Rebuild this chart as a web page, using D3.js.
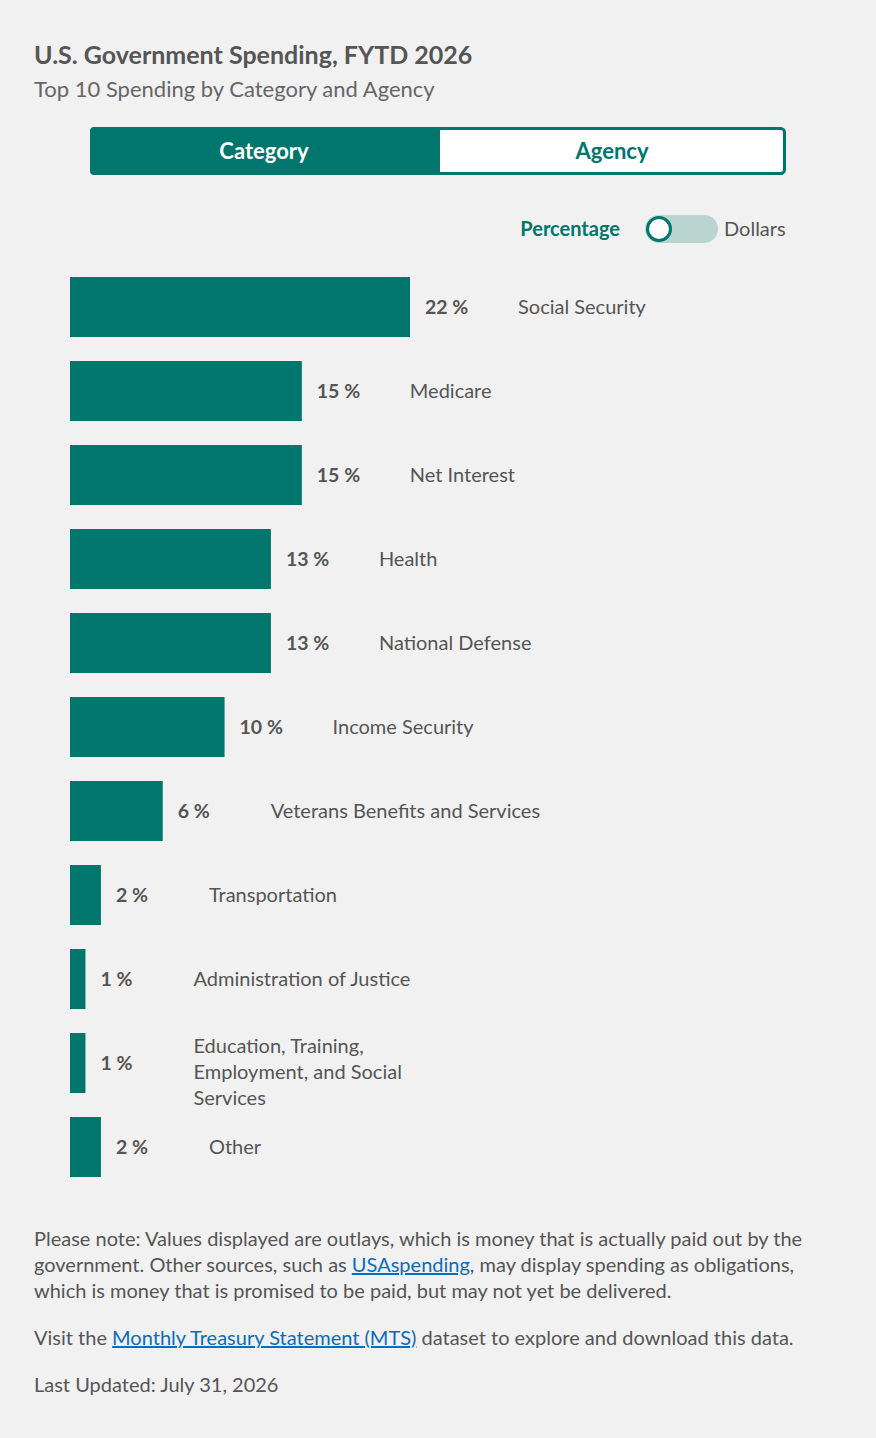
<!DOCTYPE html>
<html>
<head>
<meta charset="utf-8">
<script src="https://cdn.jsdelivr.net/npm/d3@7"></script>
<style>
  body { margin: 0; background: #f1f1f1; }
  svg { display: block; font-family: Lato, "Noto Sans", sans-serif; }
</style>
</head>
<body>
<svg width="876" height="1438"></svg>
<script>
var categories = ["Social Security", "Medicare", "Net Interest", "Health", "National Defense",
    "Income Security", "Veterans Benefits and Services", "Transportation",
    "Administration of Justice", "Education, Training, Employment, and Social Services", "Other"];
var percents = [22, 15, 15, 13, 13, 10, 6, 2, 1, 1, 2];

var title = "U.S. Government Spending, FYTD 2026",
    subtitle = "Top 10 Spending by Category and Agency",
    tabs = ["Category", "Agency"],
    switchLabels = ["Percentage", "Dollars"];

var teal = "#00766c", grey = "#555";

var svg = d3.select("svg");

var data = categories.map(function(c, i) { return {name: c, value: percents[i]}; });

// Header
svg.append("text").attr("x", 34).attr("y", 64)
    .attr("font-size", 25).attr("font-weight", 700).attr("fill", grey)
    .text(title);
svg.append("text").attr("x", 34).attr("y", 97)
    .attr("font-size", 22).attr("fill", "#666")
    .text(subtitle);

// Category / Agency tabs
var tab = d3.scaleBand().domain(tabs).range([90, 786]);
svg.append("rect").attr("x", 91.5).attr("y", 128.5).attr("width", 693).attr("height", 45)
    .attr("rx", 4).attr("fill", "#fff").attr("stroke", teal).attr("stroke-width", 3);
svg.append("path")
    .attr("d", "M" + (tab("Category") + 4) + ",127 H" + (tab("Agency") + 2) + " V175 H" + (tab("Category") + 4) +
        " a4,4 0 0 1 -4,-4 V131 a4,4 0 0 1 4,-4 Z")
    .attr("fill", teal);
svg.selectAll(".tab").data(tabs).enter().append("text")
    .attr("x", function(d) { return tab(d) + tab.bandwidth() / 2; })
    .attr("y", 151).attr("dy", "0.35em")
    .attr("text-anchor", "middle").attr("font-size", 22).attr("font-weight", 700)
    .attr("fill", function(d, i) { return i === 0 ? "#fff" : teal; })
    .text(function(d) { return d; });

// Percentage / Dollars switch
svg.append("text").attr("x", 620).attr("y", 229).attr("dy", "0.35em")
    .attr("text-anchor", "end").attr("font-size", 20).attr("font-weight", 700).attr("fill", teal)
    .text(switchLabels[0]);
svg.append("rect").attr("x", 645).attr("y", 215).attr("width", 73).attr("height", 28)
    .attr("rx", 14).attr("fill", "#bad4d0");
svg.append("circle").attr("cx", 659).attr("cy", 229).attr("r", 11.5)
    .attr("fill", "#fff").attr("stroke", teal).attr("stroke-width", 3);
svg.append("text").attr("x", 724).attr("y", 229).attr("dy", "0.35em")
    .attr("font-size", 20).attr("fill", grey)
    .text(switchLabels[1]);

// Bars
var x = d3.scaleLinear().domain([0, d3.max(percents)]).range([70, 410]);
var y = d3.scaleBand().domain(categories).range([277, 1177]).paddingInner(24 / 84).paddingOuter(0);

var row = svg.selectAll(".row").data(data).enter().append("g").attr("class", "row");

row.append("rect")
    .attr("x", x(0))
    .attr("y", function(d) { return y(d.name); })
    .attr("width", function(d) { return x(d.value) - x(0); })
    .attr("height", y.bandwidth())
    .attr("fill", teal);

row.append("text")
    .attr("x", function(d) { return x(d.value) + 15; })
    .attr("y", function(d) { return y(d.name) + y.bandwidth() / 2; })
    .attr("dy", "0.35em")
    .attr("font-size", 19.5).attr("font-weight", 700).attr("fill", grey)
    .text(function(d) { return d.value + " %"; });

var labels = row.append("text")
    .attr("x", function(d) { return x(d.value) + 108; })
    .attr("y", function(d) { return y(d.name) + y.bandwidth() / 2; })
    .attr("font-size", 20).attr("fill", grey);

// wrap long category names
labels.each(function(d) {
    var t = d3.select(this), words = d.name.split(" "), lines = [], line = [];
    var probe = t.append("tspan");
    words.forEach(function(w) {
        line.push(w);
        probe.text(line.join(" "));
        if (probe.node().getComputedTextLength() > 276 && line.length > 1) {
            line.pop();
            lines.push(line.join(" "));
            line = [w];
        }
    });
    lines.push(line.join(" "));
    probe.remove();
    var x0 = t.attr("x"), cy = +t.attr("y"), y0 = cy - (lines.length - 1) * 8.5;
    lines.forEach(function(l, i) {
        t.append("tspan").attr("x", x0).attr("y", y0 + i * 26).attr("dy", "0.35em").text(l);
    });
});

// Footer notes
var link = "#0a6cbd";
var note = svg.append("g").attr("font-size", 20).attr("fill", grey);
var l1 = note.append("text").attr("x", 34).attr("y", 1239).attr("dy", "0.35em");
l1.text("Please note: Values displayed are outlays, which is money that is actually paid out by the");
var l2 = note.append("text").attr("x", 34).attr("y", 1265).attr("dy", "0.35em");
l2.append("tspan").text("government. Other sources, such as ");
l2.append("tspan").attr("fill", link).attr("text-decoration", "underline").text("USAspending");
l2.append("tspan").text(", may display spending as obligations,");
note.append("text").attr("x", 34).attr("y", 1291).attr("dy", "0.35em")
    .text("which is money that is promised to be paid, but may not yet be delivered.");
var l4 = note.append("text").attr("x", 34).attr("y", 1338).attr("dy", "0.35em");
l4.append("tspan").text("Visit the ");
l4.append("tspan").attr("fill", link).attr("text-decoration", "underline").text("Monthly Treasury Statement (MTS)");
l4.append("tspan").text(" dataset to explore and download this data.");
note.append("text").attr("x", 34).attr("y", 1385).attr("dy", "0.35em")
    .text("Last Updated: July 31, 2026");
</script>
</body>
</html>
